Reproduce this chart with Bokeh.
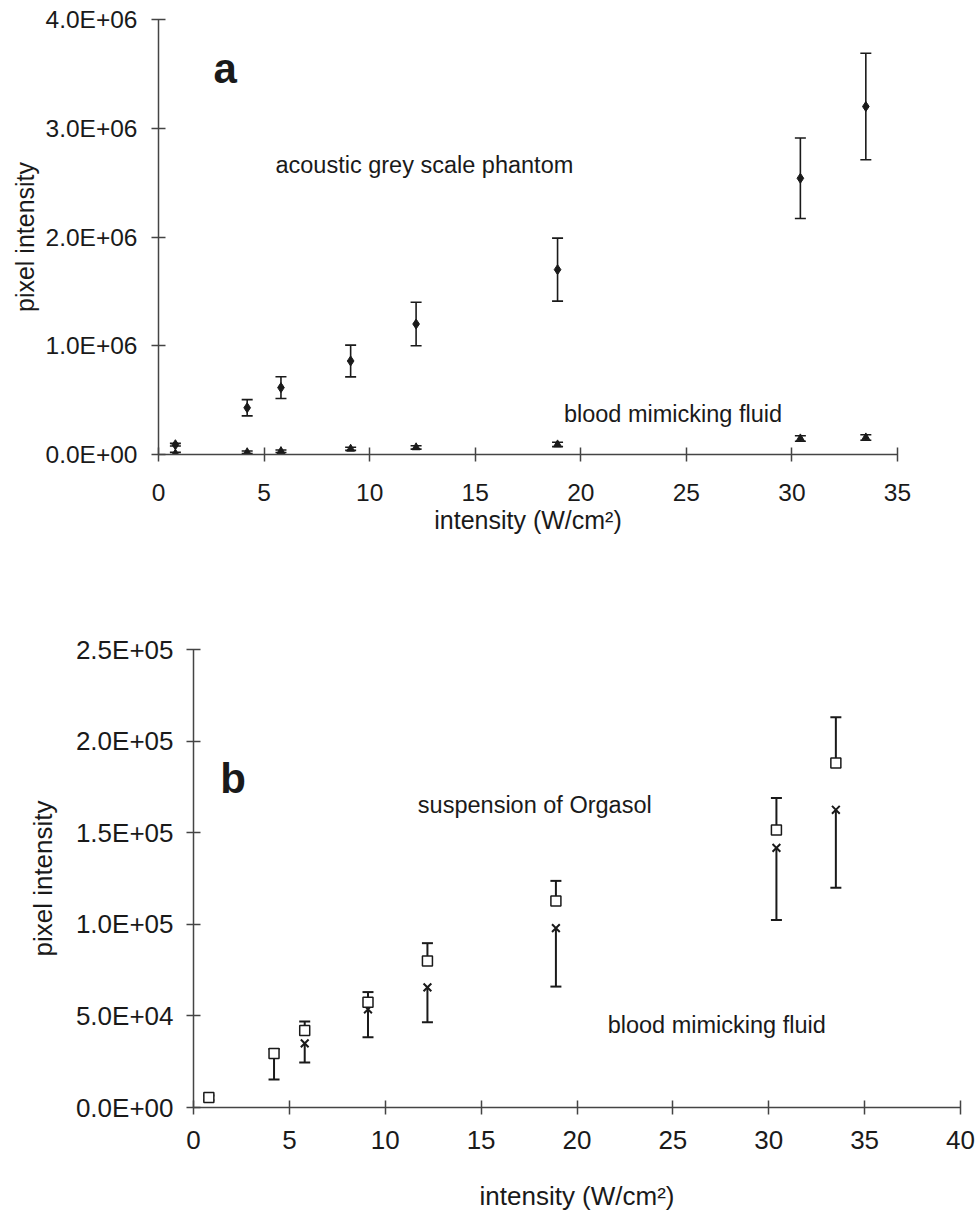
from bokeh.plotting import figure
from bokeh.models import Range1d, FixedTicker, Whisker, TeeHead, ColumnDataSource
from bokeh.core.properties import value
from bokeh.embed import file_html
from bokeh.resources import INLINE

# ---------------- data ----------------
intensity = [0.8, 4.2, 5.8, 9.1, 12.2, 18.9, 30.4, 33.5]

# panel a
phantom = [0.09e6, 0.43e6, 0.615e6, 0.86e6, 1.2e6, 1.70e6, 2.54e6, 3.20e6]
phantom_err = [0.012e6, 0.075e6, 0.1e6, 0.146e6, 0.2e6, 0.29e6, 0.37e6, 0.49e6]
blood_a = [0.008e6, 0.02e6, 0.03e6, 0.052e6, 0.065e6, 0.092e6, 0.147e6, 0.156e6]
blood_a_err = [0.012e6, 0.012e6, 0.012e6, 0.014e6, 0.016e6, 0.02e6, 0.025e6, 0.025e6]

# panel b
orgasol = [5.5e3, 2.95e4, 4.2e4, 5.74e4, 8.0e4, 1.127e5, 1.515e5, 1.88e5]
orgasol_err = [1.0e3, 2.5e3, 5.0e3, 5.6e3, 9.7e3, 1.1e4, 1.75e4, 2.5e4]
blood_b = [5.0e3, 2.9e4, 3.5e4, 5.36e4, 6.56e4, 9.79e4, 1.417e5, 1.625e5]
blood_b_err = [1.0e3, 1.37e4, 1.04e4, 1.53e4, 1.91e4, 3.19e4, 3.94e4, 4.25e4]

xa_ticks = [0, 5, 10, 15, 20, 25, 30, 35]
ya_ticks = [0, 1e6, 2e6, 3e6, 4e6]
ya_labels = ["0.0E+00", "1.0E+06", "2.0E+06", "3.0E+06", "4.0E+06"]
xb_ticks = [0, 5, 10, 15, 20, 25, 30, 35, 40]
yb_ticks = [0, 5e4, 1e5, 1.5e5, 2e5, 2.5e5]
yb_labels = ["0.0E+00", "5.0E+04", "1.0E+05", "1.5E+05", "2.0E+05", "2.5E+05"]

x_title = "intensity (W/cm\u00b2)"
y_title = "pixel intensity"

FONT = "Liberation Sans"
INK = "#1a1a1a"


def style_axes(p, xt, yt, ylabels, tick_fs, title_fs, xstand, ystand, xtitle_stand, ytitle_stand):
    p.grid.visible = False
    p.outline_line_color = None
    p.xaxis.ticker = FixedTicker(ticks=xt)
    p.yaxis.ticker = FixedTicker(ticks=yt)
    p.yaxis.major_label_overrides = {t: l for t, l in zip(yt, ylabels)}
    p.xaxis.major_label_overrides = {t: str(t) for t in xt}
    for ax in (p.xaxis, p.yaxis):
        ax.axis_line_color = "#444444"
        ax.axis_line_width = 1.5
        ax.major_tick_line_color = "#444444"
        ax.major_tick_line_width = 1.5
        ax.major_tick_in = 7
        ax.major_tick_out = 7
        ax.minor_tick_line_color = None
        ax.major_label_text_font = FONT
        ax.major_label_text_font_size = tick_fs
        ax.major_label_text_color = INK
        ax.axis_label_text_font = FONT
        ax.axis_label_text_font_size = title_fs
        ax.axis_label_text_font_style = "normal"
        ax.axis_label_text_color = INK
    p.xaxis.major_label_standoff = xstand
    p.yaxis.major_label_standoff = ystand
    p.xaxis.axis_label_standoff = xtitle_stand
    p.yaxis.axis_label_standoff = ytitle_stand
    p.xaxis.axis_label = x_title
    p.yaxis.axis_label = y_title


# ---------------- panel a ----------------
pa = figure(width=979, height=560, x_range=Range1d(0, 35), y_range=Range1d(0, 4e6),
            output_backend="svg", toolbar_location=None,
            min_border_left=158, min_border_right=82, min_border_top=19, min_border_bottom=106)
style_axes(pa, xa_ticks, ya_ticks, ya_labels, "24.5px", "25px", 22, 14, 2, 4)

src_ph = ColumnDataSource(dict(x=intensity, y=phantom,
                               lo=[v - e for v, e in zip(phantom, phantom_err)],
                               hi=[v + e for v, e in zip(phantom, phantom_err)]))
src_ba = ColumnDataSource(dict(x=intensity, y=blood_a,
                               lo=[v - e for v, e in zip(blood_a, blood_a_err)],
                               hi=[v + e for v, e in zip(blood_a, blood_a_err)]))
for s in (src_ph, src_ba):
    pa.add_layout(Whisker(base="x", lower="lo", upper="hi", source=s,
                          line_color=INK, line_width=1.6,
                          upper_head=TeeHead(size=11, line_color=INK, line_width=1.6),
                          lower_head=TeeHead(size=11, line_color=INK, line_width=1.6)))
pa.scatter("x", "y", source=src_ph, marker="diamond", size=10, color=INK)
pa.scatter("x", "y", source=src_ba, marker="triangle", size=8, color=INK)

pa.text(x=[2.6], y=[3.55e6], text=["a"], text_font=value(FONT), text_font_size="42px",
        text_font_style="bold", text_baseline="alphabetic", text_align="left", text_color=INK)
pa.text(x=[5.54, 19.2], y=[2.66e6, 0.37e6],
        text=["acoustic grey scale phantom", "blood mimicking fluid"],
        text_font=value(FONT), text_font_size="23.5px", text_baseline="middle",
        text_align="left", text_color=INK)

# ---------------- panel b ----------------
pb = figure(width=979, height=659, x_range=Range1d(0, 40), y_range=Range1d(0, 2.5e5),
            output_backend="svg", toolbar_location=None,
            min_border_left=193, min_border_right=19, min_border_top=89, min_border_bottom=112)
style_axes(pb, xb_ticks, yb_ticks, yb_labels, "26px", "26px", 16, 13, 29, 15)

src_org = ColumnDataSource(dict(x=intensity, y=orgasol,
                                hi=[v + e for v, e in zip(orgasol, orgasol_err)]))
src_bb = ColumnDataSource(dict(x=intensity, y=blood_b,
                               lo=[v - e for v, e in zip(blood_b, blood_b_err)]))
pb.add_layout(Whisker(base="x", lower="y", upper="hi", source=src_org,
                      line_color=INK, line_width=2,
                      upper_head=TeeHead(size=11, line_color=INK, line_width=2),
                      lower_head=None))
pb.add_layout(Whisker(base="x", lower="lo", upper="y", source=src_bb,
                      line_color=INK, line_width=2,
                      lower_head=TeeHead(size=11, line_color=INK, line_width=2),
                      upper_head=None))
pb.scatter("x", "y", source=src_bb, marker="x", size=11, line_width=2, color=INK)
pb.scatter("x", "y", source=src_org, marker="square", size=10, line_width=1.5,
           line_color=INK, fill_color="white")

pb.text(x=[1.4], y=[1.795e5], text=["b"], text_font=value(FONT), text_font_size="42px",
        text_font_style="bold", text_baseline="alphabetic", text_align="left", text_color=INK)
pb.text(x=[11.7, 21.6], y=[1.65e5, 0.45e5],
        text=["suspension of Orgasol", "blood mimicking fluid"],
        text_font=value(FONT), text_font_size="23.5px", text_baseline="middle",
        text_align="left", text_color=INK)

open("out.html", "w").write(file_html([pa, pb], INLINE))
